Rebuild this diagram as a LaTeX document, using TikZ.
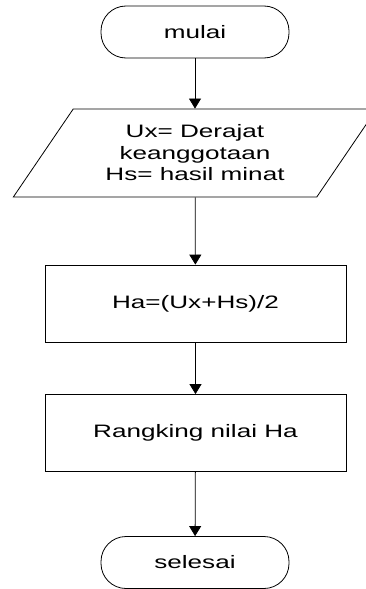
\documentclass[tikz,border=0pt]{standalone}
\usepackage{fontspec}
\newfontfamily\flowfont[FakeStretch=1.45]{Liberation Sans}
\usetikzlibrary{shapes.geometric,arrows.meta}

\begin{document}
\begin{tikzpicture}[x=1pt,y=-1pt,
  every node/.style={font=\flowfont\fontsize{18}{21.5}\selectfont,line width=0.8pt},
  terminal/.style={draw,rectangle,rounded corners=25pt,minimum width=188pt,minimum height=52pt},
  proses/.style={draw,rectangle,minimum width=301pt,minimum height=77pt},
  masukan/.style={draw,trapezium,trapezium left angle=54,trapezium right angle=126,
    trapezium stretches=true,minimum width=364pt,minimum height=88pt,align=center},
  panah/.style={-{Triangle[width=12pt,length=10pt]},line width=0.8pt}]
  \clip (0,0) rectangle (366,589);

  % Start
  \node[terminal] (mulai) at (195,32) {mulai};

  % Input data
  \node[masukan] (input) at (195,153) {Ux= Derajat\\keanggotaan\\Hs= hasil minat};

  % Process steps
  \node[proses] (hitung) at (195.5,303.5) {Ha=(Ux+Hs)/2};
  \node[proses] (rangking) at (195.5,433) {Rangking nilai Ha};

  % End
  \node[terminal] (selesai) at (195,562.5) {selesai};

  % Arrows
  \draw[panah] (mulai) -- (input);
  \draw[panah] (input) -- (hitung);
  \draw[panah] (hitung) -- (rangking);
  \draw[panah] (rangking) -- (selesai);
\end{tikzpicture}
\end{document}
